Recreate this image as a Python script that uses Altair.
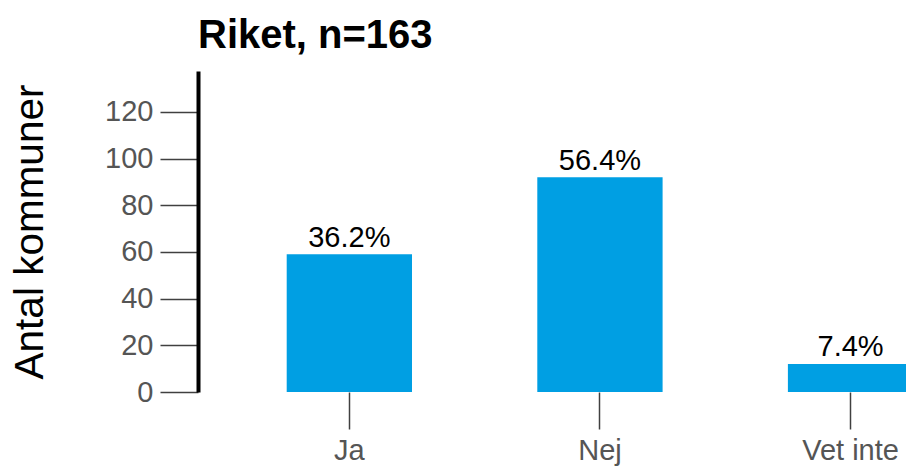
import altair as alt
import pandas as pd

categories = ["Ja", "Nej", "Vet inte"]
counts = [59, 92, 12]
pct_labels = ["36.2%", "56.4%", "7.4%"]
y_ticks = [0, 20, 40, 60, 80, 100, 120]

df = pd.DataFrame({"svar": categories, "antal": counts, "pct": pct_labels})

FONT = "Liberation Sans, Arial, sans-serif"

x = alt.X(
    "svar:N",
    sort=categories,
    scale=alt.Scale(range=[88.7, 715.2], paddingInner=0.5, paddingOuter=0),
    axis=alt.Axis(
        title=None,
        domain=False,
        ticks=True,
        tickSize=37,
        tickWidth=1.5,
        tickColor="#404040",
        labelFontSize=29,
        labelColor="#555555",
        labelPadding=7,
        labelFont=FONT,
        labelAngle=0,
    ),
)

y = alt.Y(
    "antal:Q",
    scale=alt.Scale(domain=[0, 137.5], nice=False, zero=True),
    axis=alt.Axis(
        title="Antal kommuner",
        values=y_ticks,
        grid=False,
        domain=True,
        domainColor="#000000",
        domainWidth=4,
        tickSize=38,
        tickWidth=1.5,
        tickColor="#404040",
        labelFontSize=29,
        labelColor="#555555",
        labelPadding=7,
        labelFont=FONT,
        titleFont=FONT,
        titleFontSize=40.5,
        titleFontWeight="normal",
        titleColor="#000000",
        titleAngle=270,
        titleAlign="center",
        titleBaseline="alphabetic",
        titleX=-156,
        titleY=160.5,
    ),
)

base = alt.Chart(df).encode(x=x, y=y)

bars = base.mark_bar(color="#009FE3")
labels = base.mark_text(
    baseline="alphabetic",
    align="center",
    dy=-7.5,
    fontSize=29,
    font=FONT,
    color="#000000",
).encode(text="pct:N")

chart = (
    alt.layer(bars, labels)
    .properties(
        width=708,
        height=321,
        background="#ffffff",
        title=alt.TitleParams(
            text="Riket, n=163",
            anchor="start",
            frame="group",
            fontSize=40,
            fontWeight="bold",
            font=FONT,
            color="#000000",
            offset=15,
        ),
        autosize=alt.AutoSizeParams(type="none"),
        padding={"left": 198, "top": 71, "right": 0, "bottom": 74},
    )
    .configure_view(strokeWidth=0, stroke="transparent")
)

chart.save("out.html", embed_options={"renderer": "svg", "actions": False})
